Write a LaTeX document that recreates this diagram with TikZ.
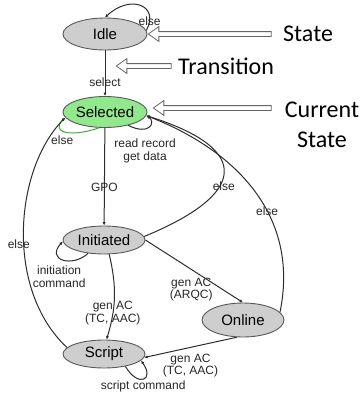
\documentclass[tikz,border=0pt]{standalone}
\usepackage{fontspec}
\setmainfont{Liberation Sans}
\newfontfamily\calib{Carlito}
\usepackage{xcolor}
\usetikzlibrary{positioning, shapes.geometric, shapes.arrows, arrows.meta}
\definecolor{stategray}{RGB}{206,206,206}
\definecolor{selgreen}{RGB}{146,232,140}
\definecolor{loopgreen}{RGB}{70,170,60}
\definecolor{linegray}{RGB}{45,45,45}

\begin{document}
\begin{tikzpicture}[x=1pt, y=-1pt,
    state/.style={ellipse, draw=black!65, line width=0.9pt, fill=stategray, minimum width=84pt, minimum height=31pt, inner sep=0pt, font=\fontsize{15}{15}\selectfont},
    edge/.style={draw=linegray, line width=1pt, -{Latex[length=3.5pt, width=3.2pt]}},
    lbl/.style={font=\fontsize{12}{12.5}\selectfont, text=black!85, inner sep=1pt, align=center},
    pointer/.style={single arrow, draw=black!60, fill=white, line width=0.8pt, shape border rotate=180, inner sep=2pt, single arrow head extend=5pt, single arrow tip angle=70},
    big/.style={font=\calib\fontsize{24}{30}\selectfont, inner sep=0pt}]
        \useasboundingbox (0,0) rectangle (364,394);
        \node[state, minimum height=32pt] (idle) at (105,34) {Idle};
        \node[state, fill=selgreen] (sel) at (105,112) {Selected};
        \node[state, minimum width=82pt, minimum height=28pt] (init) at (104,240) {Initiated};
        \node[state, minimum width=82pt, minimum height=34pt] (onl) at (243,320) {Online};
        \node[state, minimum width=82pt, minimum height=28pt] (scr) at (104,354) {Script};
        \node[big, anchor=west] (tstate) at (283,34) {State};
        \node[big, anchor=west] (ttrans) at (178,66) {Transition};
        \node[big, align=center] (tcur) at (322,125) {Current\\State};
        \node[pointer, minimum height=123pt] (pstate) at (211.5,34) {};
        \node[pointer, minimum height=55pt] (ptrans) at (145.5,66) {};
        \node[pointer, minimum height=118pt] (pcur) at (214,108) {};
        \draw[edge] (idle.5) .. controls (160,5) and (130,-6) .. (idle.north) node[lbl, pos=.13] (e1) {else};
        \draw[edge] (idle) -- (sel) node[lbl, pos=.7] (e2) {select};
        \draw[edge, draw=loopgreen] (sel.250) .. controls (70,138) and (50,132) .. (sel.188) node[lbl, pos=.6, below=4pt] (e3) {else};
        \draw[edge] (sel.330) .. controls (150,136) and (156,122) .. (sel.355) node[lbl, pos=.45, below=10pt, xshift=-3pt] (e4) {read record\\get data};
        \draw[edge] (sel) -- (init) node[lbl, pos=.61] (e5) {GPO};
        \draw[edge] (init.5) .. controls (245,195) and (255,150) .. (sel.355) node[lbl, pos=.4, xshift=4pt] (e6) {else};
        \draw[edge] (onl.12) .. controls (300,215) and (235,150) .. (sel.355) node[lbl, pos=.4] (e7) {else};
        \draw[edge] (init.east) -- (onl.north) node[lbl, midway, below=5pt, xshift=-3pt] (e8) {gen AC\\(ARQC)};
        \draw[edge] (init.220) .. controls (72,268) and (46,260) .. (init.182) node[lbl, pos=.5, below=4.5pt, xshift=-4pt] (e9) {initiation\\command};
        \draw[edge] (init.290) to[bend left=15] node[lbl, pos=.7] (e10) {gen AC\\(TC, AAC)} (scr.80);
        \draw[edge] (onl.250) -- (scr.355) node[lbl, midway, below=5pt] (e11) {gen AC\\(TC, AAC)};
        \draw[edge] (scr.330) .. controls (138,388) and (155,380) .. (scr.350) node[lbl, pos=.5, below=0pt] (e12) {script command};
        \draw[edge] (scr.170) .. controls (5,290) and (14,170) .. (sel.188) node[lbl, pos=.45, xshift=-5pt] (e13) {else};
    \end{tikzpicture}
\end{document}
